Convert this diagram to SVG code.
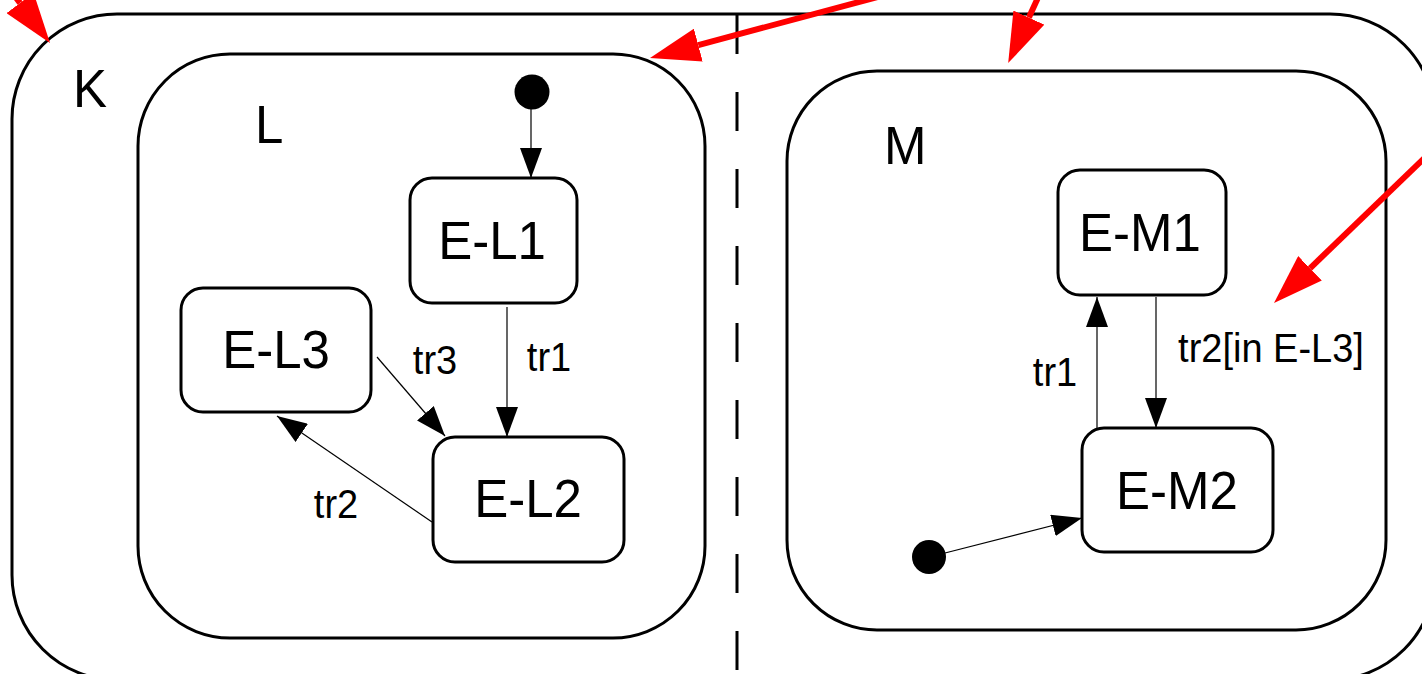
<svg xmlns="http://www.w3.org/2000/svg" width="1422" height="674" viewBox="0 0 1422 674">
<style>
.region{fill:none;stroke:#000;stroke-width:3}
.state{fill:#fff;stroke:#000;stroke-width:3}
.big{font-family:"Liberation Sans",Arial,sans-serif;font-size:51px;fill:#000}
.lbl{font-family:"Liberation Sans",Arial,sans-serif;font-size:38px;fill:#000}
.mid{text-anchor:middle}
.tr{stroke:#000;stroke-width:1.2;fill:none;marker-end:url(#ah)}
.red{stroke:#f00;stroke-width:6;fill:none;marker-end:url(#rh)}
.dash{stroke:#000;stroke-width:3;stroke-dasharray:39 38}
</style>
<defs>
<marker id="ah" markerUnits="userSpaceOnUse" markerWidth="30" markerHeight="22" refX="30" refY="11" orient="auto" viewBox="0 0 30 22">
<path d="M0,0 L30,11 L0,22 z" fill="#000"/>
</marker>
<marker id="rh" markerUnits="userSpaceOnUse" markerWidth="50" markerHeight="34" refX="0" refY="17" orient="auto" viewBox="0 0 50 34">
<path d="M0,0 L50,17 L0,34 z" fill="#f00"/>
</marker>
</defs>
<rect width="1422" height="674" fill="#fff"/>
<g id="K">
<rect class="region" x="12" y="14" width="1423" height="666" rx="105" ry="105"/>
<text class="big" transform="translate(73,107) scale(1,1.06)">K</text>
</g>
<g id="divider">
<line class="dash" x1="737" y1="15" x2="737" y2="674"/>
</g>
<g id="L">
<rect class="region" x="138" y="54" width="567" height="584" rx="92" ry="92"/>
<text class="big" transform="translate(255,143) scale(1,1.06)">L</text>
</g>
<g id="M">
<rect class="region" x="787" y="71" width="599" height="559" rx="90" ry="90"/>
<text class="big" transform="translate(884,164) scale(1,1.06)">M</text>
</g>
<g id="E-L1">
<rect class="state" x="410" y="178" width="167" height="125" rx="22" ry="22"/>
<text class="big mid" transform="translate(492,259) scale(1,1.06)">E-L1</text>
</g>
<g id="E-L3">
<rect class="state" x="181" y="288" width="190" height="124" rx="22" ry="22"/>
<text class="big mid" transform="translate(276,368) scale(1,1.06)">E-L3</text>
</g>
<g id="E-L2">
<rect class="state" x="433" y="437" width="191" height="125" rx="22" ry="22"/>
<text class="big mid" transform="translate(528,517) scale(1,1.06)">E-L2</text>
</g>
<g id="E-M1">
<rect class="state" x="1058" y="170" width="168" height="125" rx="22" ry="22"/>
<text class="big mid" transform="translate(1140,251) scale(1,1.06)">E-M1</text>
</g>
<g id="E-M2">
<rect class="state" x="1082" y="428" width="191" height="124" rx="22" ry="22"/>
<text class="big mid" transform="translate(1177,509) scale(1,1.06)">E-M2</text>
</g>
<g id="init-L">
<circle cx="532" cy="92" r="17.5" fill="#000"/>
</g>
<g id="init-M">
<circle cx="929" cy="557" r="17" fill="#000"/>
</g>
<g id="connectors">
<line class="tr" x1="531" y1="108" x2="531" y2="178"/>
<line class="tr" x1="507" y1="307" x2="507" y2="437"/>
<line class="tr" x1="377" y1="357" x2="445" y2="436"/>
<line class="tr" x1="432" y1="522" x2="277" y2="416"/>
<line class="tr" x1="1097" y1="428" x2="1097" y2="297"/>
<line class="tr" x1="1156" y1="297" x2="1156" y2="428"/>
<line class="tr" x1="945" y1="553" x2="1082" y2="518"/>
<text class="lbl mid" transform="translate(435,374) scale(1,1.06)">tr3</text>
<text class="lbl mid" transform="translate(549,371) scale(1,1.06)">tr1</text>
<text class="lbl mid" transform="translate(336,518) scale(1,1.06)">tr2</text>
<text class="lbl mid" transform="translate(1055,386) scale(1,1.06)">tr1</text>
<text class="lbl mid" transform="translate(1271,362) scale(1,1.06)">tr2[in E-L3]</text>
</g>
<g id="red-arrows">
<line class="red" x1="-10" y1="-37" x2="20" y2="3"/>
<line class="red" x1="900" y1="-9" x2="698.3" y2="45.1"/>
<line class="red" x1="1046" y1="-20" x2="1028.9" y2="17.6"/>
<line class="red" x1="1440" y1="143" x2="1310" y2="268.3"/>
</g>
</svg>
